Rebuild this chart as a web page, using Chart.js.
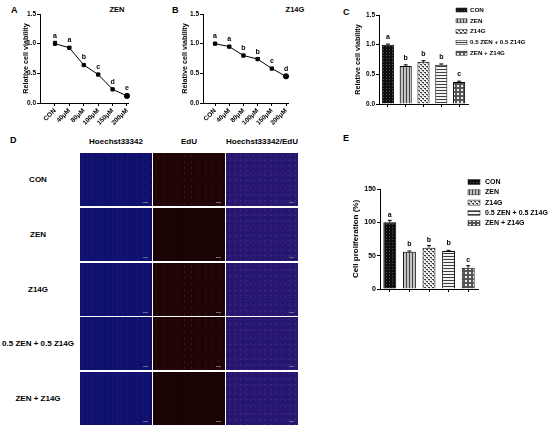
<!DOCTYPE html>
<html lang="en">
  <head>
    <meta charset="UTF-8" />
    <title>Cell viability and proliferation</title>
    <script src="https://cdn.jsdelivr.net/npm/chart.js"></script>
    <style>
      html, body { margin: 0; padding: 0; background: #fff; }
      #fig { position: relative; width: 550px; height: 429px; overflow: hidden;
             font-family: "Liberation Sans", Arial, sans-serif; font-weight: bold; color: #000; }
      .abs { position: absolute; }
      .letter { font-size: 9px; line-height: 9px; }
      .ptitle { font-size: 7.5px; line-height: 8px; transform: translateX(-50%); white-space: nowrap; }
      .hdr { font-size: 8px; line-height: 8px; transform: translateX(-50%); white-space: nowrap; }
      .rowname { font-size: 8px; line-height: 8px; transform: translate(-50%, -50%); white-space: nowrap; }
      .tile { width: 72px; height: 53px; }
      .tile::after { content: ""; position: absolute; right: 4px; bottom: 3px; width: 5px; height: 1px; background: #6a6a80; }
      .blue { background-color: #10106e;
              background-image: radial-gradient(rgba(60,60,190,.18) 0.7px, transparent 1.2px),
                                radial-gradient(rgba(0,0,30,.25) 1.2px, transparent 2px);
              background-size: 5px 4px, 9px 8px; background-position: 0 0, 3px 2px; }
      .red { background-color: #1f0505;
             background-image: radial-gradient(rgba(170,30,30,.28) 0.6px, transparent 1.1px),
                               radial-gradient(rgba(120,20,20,.18) 0.8px, transparent 1.4px);
             background-size: 7px 6px, 11px 9px; background-position: 0 0, 4px 3px; }
      .red.faint { background-color: #1a0303;
                   background-image: radial-gradient(rgba(130,20,20,.15) 0.6px, transparent 1.1px);
                   background-size: 9px 8px; }
      .merge { background-color: #26166e;
               background-image: radial-gradient(rgba(150,60,190,.22) 0.7px, transparent 1.2px),
                                 radial-gradient(rgba(70,70,200,.2) 0.8px, transparent 1.3px);
               background-size: 6px 5px, 5px 7px; background-position: 0 0, 2px 3px; }
    </style>
  </head>
  <body>
    <div id="fig">
      <!-- panel letters -->
      <div class="abs letter" style="left:11px;top:6px">A</div>
      <div class="abs letter" style="left:172px;top:6px">B</div>
      <div class="abs letter" style="left:343px;top:8px">C</div>
      <div class="abs letter" style="left:10px;top:136px">D</div>
      <div class="abs letter" style="left:343px;top:134px">E</div>

      <div class="abs ptitle" style="left:117px;top:6px">ZEN</div>
      <div class="abs ptitle" style="left:295px;top:6px">Z14G</div>

      <div class="abs" style="left:0;top:0;width:170px;height:135px"><canvas id="chartA"></canvas></div>
      <div class="abs" style="left:170px;top:0;width:170px;height:135px"><canvas id="chartB"></canvas></div>
      <div class="abs" style="left:340px;top:0;width:210px;height:135px"><canvas id="chartC"></canvas></div>
      <div class="abs" style="left:340px;top:175px;width:210px;height:130px"><canvas id="chartE"></canvas></div>

      <div id="panelD"></div>
    </div>

    <script>
      // ---- data ----
      const doseLabels = ["CON", "40μM", "80μM", "100μM", "150μM", "200μM"];
      const zenViability = [1.0, 0.93, 0.64, 0.48, 0.23, 0.12];
      const zenErr = [0.04, 0.02, 0.015, 0.015, 0.015, 0.02];
      const zenLetters = ["a", "a", "b", "c", "d", "e"];
      const z14gViability = [1.0, 0.95, 0.8, 0.74, 0.58, 0.45];
      const z14gErr = [0.02, 0.02, 0.02, 0.025, 0.02, 0.015];
      const z14gLetters = ["a", "a", "b", "b", "c", "d"];

      const groupLabels = ["CON", "ZEN", "Z14G", "0.5 ZEN + 0.5 Z14G", "ZEN + Z14G"];
      const comboViability = [1.0, 0.64, 0.71, 0.66, 0.37];
      const comboViabilityErr = [0.01, 0.02, 0.02, 0.015, 0.015];
      const comboViabilityLetters = ["a", "b", "b", "b", "c"];
      const proliferation = [100, 56, 62, 57, 32];
      const proliferationErr = [3, 1, 3, 1, 3];
      const proliferationLetters = ["a", "b", "b", "b", "c"];

      const viabilityTicks = [0, 0.5, 1.0, 1.5];
      const proliferationTicks = [0, 50, 100, 150];

      const imageChannels = ["Hoechst33342", "EdU", "Hoechst33342/EdU"];

      Chart.defaults.font.family = "'Liberation Sans', Arial, sans-serif";
      Chart.defaults.font.weight = "bold";
      Chart.defaults.font.size = 7;
      Chart.defaults.color = "#000";
      Chart.defaults.animation = false;

      // bar fill patterns
      function makePattern(size, draw) {
        const c = document.createElement("canvas");
        c.width = size;
        c.height = size;
        const g = c.getContext("2d");
        draw(g, size);
        return g.createPattern(c, "repeat");
      }
      const fills = [
        makePattern(3, (g) => {
          g.fillStyle = "#0d0d0d"; g.fillRect(0, 0, 3, 3);
          g.fillStyle = "#555"; g.fillRect(1, 1, 1, 1);
        }),
        makePattern(3, (g) => {
          g.fillStyle = "#c4c4c4"; g.fillRect(0, 0, 3, 3);
          g.fillStyle = "#444"; g.fillRect(0, 0, 1, 3);
        }),
        makePattern(4, (g) => {
          g.fillStyle = "#f2f2f2"; g.fillRect(0, 0, 4, 4);
          g.fillStyle = "#3a3a3a"; g.fillRect(0, 0, 2, 1); g.fillRect(2, 2, 2, 1);
          g.fillStyle = "#888"; g.fillRect(1, 1, 1, 1); g.fillRect(3, 3, 1, 1);
        }),
        makePattern(3, (g) => {
          g.fillStyle = "#f4f4f4"; g.fillRect(0, 0, 3, 3);
          g.fillStyle = "#3c3c3c"; g.fillRect(0, 0, 3, 1);
        }),
        makePattern(4, (g) => {
          g.fillStyle = "#555"; g.fillRect(0, 0, 4, 4);
          g.fillStyle = "#f0f0f0"; g.fillRect(1, 1, 2, 2);
        }),
      ];

      // error bars + significance letters
      function annotations(errs, letters, upOnly) {
        return {
          id: "annot",
          afterDatasetsDraw(chart) {
            const { ctx } = chart;
            const y = chart.scales.y;
            const meta = chart.getDatasetMeta(0);
            const vals = chart.data.datasets[0].data.map((d) => (typeof d === "object" ? d.y : d));
            ctx.save();
            ctx.strokeStyle = "#000";
            ctx.lineWidth = 1;
            ctx.fillStyle = "#000";
            ctx.font = "bold 7px 'Liberation Sans', Arial, sans-serif";
            ctx.textAlign = "center";
            ctx.textBaseline = "bottom";
            meta.data.forEach((el, i) => {
              const top = y.getPixelForValue(vals[i] + errs[i]);
              const bot = upOnly ? y.getPixelForValue(vals[i]) : y.getPixelForValue(vals[i] - errs[i]);
              ctx.beginPath();
              ctx.moveTo(el.x, bot);
              ctx.lineTo(el.x, top);
              ctx.moveTo(el.x - 2, top);
              ctx.lineTo(el.x + 2, top);
              ctx.stroke();
              ctx.fillText(letters[i], el.x, Math.min(top, el.y - 2) - 2);
            });
            ctx.restore();
          },
        };
      }

      // legend with pattern swatches
      function patternLegend(o) {
        return {
          id: "patternLegend",
          afterDraw(chart) {
            const { ctx } = chart;
            ctx.save();
            ctx.font = `bold ${o.size}px 'Liberation Sans', Arial, sans-serif`;
            ctx.textBaseline = "middle";
            ctx.textAlign = "left";
            ctx.lineWidth = 0.6;
            ctx.strokeStyle = "#333";
            chart.data.labels.forEach((text, i) => {
              const cy = o.y + i * o.gap;
              ctx.fillStyle = fills[i];
              ctx.fillRect(o.x, cy - o.h / 2, o.w, o.h);
              ctx.strokeRect(o.x, cy - o.h / 2, o.w, o.h);
              ctx.fillStyle = "#000";
              ctx.fillText(text, o.x + o.w + o.textGap, cy);
            });
            ctx.restore();
          },
        };
      }

      function axisGrid() {
        return { display: true, drawOnChartArea: false, color: "#000", tickLength: 3, tickColor: "#000" };
      }

      function doseChart(id, values, errs, letters, opts) {
        new Chart(document.getElementById(id), {
          type: "line",
          data: {
            datasets: [{
              data: values.map((v, i) => ({ x: i, y: v })),
              borderColor: "#000",
              borderWidth: 1,
              backgroundColor: "#000",
              pointStyle: (c) => (c.dataIndex === values.length - 1 ? "circle" : "rect"),
              pointRadius: (c) => (c.dataIndex === values.length - 1 ? 2.6 : 2.3),
              pointBorderColor: "#000",
              clip: false,
            }],
          },
          options: {
            responsive: true,
            maintainAspectRatio: false,
            layout: { padding: { left: opts.padLeft, top: 14, right: opts.padRight, bottom: 0 } },
            plugins: { legend: { display: false }, tooltip: { enabled: false } },
            scales: {
              x: {
                type: "linear",
                min: opts.xMin,
                max: opts.xMax,
                afterBuildTicks: (s) => { s.ticks = doseLabels.map((_, i) => ({ value: i })); },
                afterFit: (s) => { s.height = 32; },
                ticks: { callback: (v) => doseLabels[v], minRotation: 45, maxRotation: 45, autoSkip: false, padding: 1, font: { size: 6.5 } },
                grid: axisGrid(),
                border: { color: "#000", width: 1 },
              },
              y: {
                min: 0,
                max: 1.5,
                afterBuildTicks: (s) => { s.ticks = viabilityTicks.map((v) => ({ value: v })); },
                afterFit: (s) => { s.width = opts.yWidth; },
                ticks: { callback: (v) => v.toFixed(1), padding: 1, font: { size: 6.5 } },
                grid: axisGrid(),
                border: { color: "#000", width: 1 },
                title: { display: true, text: "Relative cell viability", font: { size: 7.2 }, padding: { top: 4, bottom: 0 } },
              },
            },
          },
          plugins: [annotations(errs, letters, false)],
        });
      }

      doseChart("chartA", zenViability, zenErr, zenLetters, { padLeft: 18, padRight: 42, yWidth: 22, xMin: -1.04, xMax: 5.07 });
      doseChart("chartB", z14gViability, z14gErr, z14gLetters, { padLeft: 7, padRight: 52, yWidth: 26, xMin: -0.85, xMax: 5.14 });

      function groupChart(id, values, errs, letters, opts) {
        new Chart(document.getElementById(id), {
          type: "bar",
          data: {
            labels: groupLabels,
            datasets: [{
              data: values,
              backgroundColor: fills,
              borderColor: "#000",
              borderWidth: 1,
              categoryPercentage: 1,
              barPercentage: opts.barPct,
            }],
          },
          options: {
            responsive: true,
            maintainAspectRatio: false,
            layout: { padding: { left: opts.padLeft, top: opts.padTop, right: opts.padRight, bottom: 0 } },
            plugins: { legend: { display: false }, tooltip: { enabled: false } },
            scales: {
              x: {
                ticks: { display: false },
                afterFit: (s) => { s.height = opts.xHeight; },
                grid: { ...axisGrid(), offset: false },
                border: { color: "#000", width: 1 },
              },
              y: {
                min: 0,
                max: opts.ticks[opts.ticks.length - 1],
                afterBuildTicks: (s) => { s.ticks = opts.ticks.map((v) => ({ value: v })); },
                afterFit: (s) => { s.width = opts.yWidth; },
                ticks: { callback: opts.fmt, padding: 1, font: { size: opts.tickSize } },
                grid: axisGrid(),
                border: { color: "#000", width: 1 },
                title: { display: true, text: opts.title, font: { size: opts.titleSize }, padding: { top: 4, bottom: 0 } },
              },
            },
          },
          plugins: [annotations(errs, letters, true), patternLegend(opts.legend)],
        });
      }

      groupChart("chartC", comboViability, comboViabilityErr, comboViabilityLetters, {
        padLeft: 10, padTop: 15, padRight: 82, yWidth: 29, xHeight: 31, barPct: 0.68,
        ticks: viabilityTicks, fmt: (v) => v.toFixed(1), tickSize: 6.5,
        title: "Relative cell viability", titleSize: 7.2,
        legend: { x: 116, y: 10, gap: 10.8, w: 11, h: 4, textGap: 3, size: 6.2 },
      });
      groupChart("chartE", proliferation, proliferationErr, proliferationLetters, {
        padLeft: 7, padTop: 14, padRight: 72, yWidth: 33, xHeight: 16, barPct: 0.66,
        ticks: proliferationTicks, fmt: (v) => String(v), tickSize: 7,
        title: "Cell proliferation (%)", titleSize: 8,
        legend: { x: 128, y: 7, gap: 10.3, w: 12, h: 5, textGap: 5, size: 7 },
      });

      // panel D: fluorescence image grid
      const panelD = document.getElementById("panelD");
      const colX = [80, 153, 226];
      const rowY = [153, 208, 263, 317, 372];
      const chanClass = ["blue", "red", "merge"];
      imageChannels.forEach((name, c) => {
        const h = document.createElement("div");
        h.className = "abs hdr";
        h.style.left = colX[c] + 36 + "px";
        h.style.top = "138px";
        h.textContent = name;
        panelD.appendChild(h);
      });
      groupLabels.forEach((name, r) => {
        const lab = document.createElement("div");
        lab.className = "abs rowname";
        lab.style.left = "38px";
        lab.style.top = rowY[r] + 27 + "px";
        lab.textContent = name;
        panelD.appendChild(lab);
        chanClass.forEach((cls, c) => {
          const t = document.createElement("div");
          t.className = "abs tile " + cls + (cls === "red" && (r === 1 || r === 4) ? " faint" : "");
          t.style.left = colX[c] + "px";
          t.style.top = rowY[r] + "px";
          panelD.appendChild(t);
        });
      });
    </script>
  </body>
</html>
